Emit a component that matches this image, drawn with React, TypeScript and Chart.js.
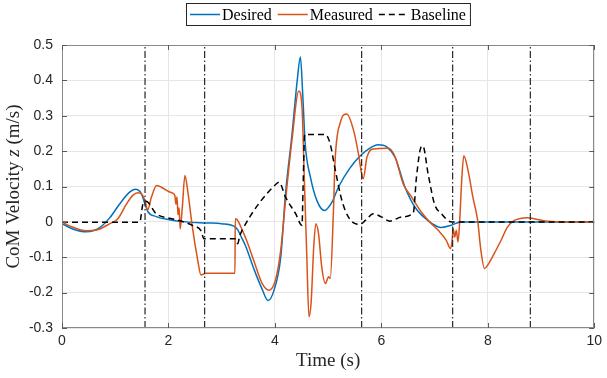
import React, { useEffect, useRef } from 'react';
import { Chart, registerables } from 'chart.js';

Chart.register(...registerables);

// ---- Data ----
const seriesNames = ['Desired', 'Measured', 'Baseline'];

const desiredTime = [0, 0.2, 0.46, 0.71, 0.9, 1.08, 1.27, 1.38, 1.49, 1.55, 1.61, 1.77, 2.02, 2.33, 2.7, 3.0, 3.23, 3.3, 3.36, 3.45, 3.61, 3.76, 3.87, 3.98, 4.11, 4.2, 4.32, 4.42, 4.48, 4.52, 4.57, 4.67, 4.79, 4.93, 5.07, 5.2, 5.4, 5.6, 5.8, 5.94, 6.1, 6.26, 6.44, 6.63, 6.88, 7.05, 7.12, 7.3, 7.5, 8.0, 10];
const desiredVel = [-0.005, -0.02, -0.028, -0.016, 0.012, 0.05, 0.084, 0.092, 0.08, 0.055, 0.03, 0.015, 0.006, 0, -0.003, -0.005, -0.012, -0.022, -0.04, -0.068, -0.135, -0.19, -0.222, -0.195, -0.1, 0.08, 0.245, 0.4, 0.466, 0.37, 0.22, 0.125, 0.06, 0.032, 0.055, 0.1, 0.15, 0.186, 0.21, 0.218, 0.212, 0.182, 0.1, 0.042, 0.003, -0.013, -0.016, -0.01, 0, 0, 0];

const measuredTime = [0, 0.15, 0.46, 0.65, 0.9, 1.05, 1.21, 1.33, 1.43, 1.5, 1.56, 1.61, 1.68, 1.78, 1.9, 2.05, 2.12, 2.14, 2.16, 2.18, 2.2, 2.22, 2.26, 2.31, 2.36, 2.45, 2.55, 2.61, 2.67, 2.7, 3.25, 3.255, 3.28, 3.39, 3.48, 3.6, 3.76, 3.89, 4.01, 4.11, 4.2, 4.32, 4.45, 4.51, 4.55, 4.6, 4.64, 4.68, 4.73, 4.77, 4.82, 4.88, 4.95, 5.01, 5.04, 5.1, 5.13, 5.23, 5.35, 5.48, 5.57, 5.63, 5.66, 5.73, 5.85, 6.13, 6.26, 6.41, 6.57, 6.75, 6.94, 7.07, 7.22, 7.3, 7.33, 7.35, 7.38, 7.41, 7.44, 7.47, 7.51, 7.55, 7.63, 7.72, 7.81, 7.87, 7.94, 8.0, 8.12, 8.25, 8.37, 8.5, 8.75, 8.87, 9.12, 9.5, 10];
const measuredVel = [0, -0.012, -0.025, -0.023, -0.005, 0.009, 0.05, 0.075, 0.082, 0.078, 0.06, 0.034, 0.07, 0.103, 0.095, 0.083, 0.075, 0.05, 0.07, 0.02, 0.04, -0.02, 0.04, 0.131, 0.09, -0.015, -0.108, -0.15, -0.147, -0.145, -0.145, 0.009, 0.008, -0.024, -0.057, -0.108, -0.174, -0.193, -0.165, -0.08, 0.06, 0.23, 0.37, 0.323, 0.136, -0.1, -0.268, -0.23, -0.071, -0.005, -0.033, -0.127, -0.174, -0.155, -0.16, 0.03, 0.17, 0.281, 0.305, 0.258, 0.192, 0.136, 0.122, 0.183, 0.206, 0.208, 0.183, 0.108, 0.07, 0.028, -0.005, -0.024, -0.052, -0.076, -0.052, -0.019, -0.043, -0.024, -0.057, -0.005, 0.117, 0.187, 0.145, 0.07, 0.004, -0.08, -0.132, -0.122, -0.09, -0.052, -0.015, 0.004, 0.012, 0.009, 0.002, 0, 0];

const baselineTime = [0, 1.46, 1.52, 1.58, 1.77, 2.02, 2.2, 2.45, 2.61, 2.67, 3.25, 3.3, 3.34, 3.39, 4.04, 4.08, 4.2, 4.39, 4.51, 4.53, 4.56, 4.95, 5.04, 5.13, 5.26, 5.38, 5.51, 5.6, 5.7, 5.85, 6.0, 6.16, 6.38, 6.6, 6.66, 6.75, 6.78, 6.88, 7.0, 7.13, 7.25, 7.32, 10];
const baselineVel = [-0.001, -0.001, 0.05, 0.058, 0.023, 0.01, 0.004, -0.01, -0.025, -0.048, -0.048, -0.062, -0.04, -0.022, 0.109, 0.112, 0.07, 0.023, -0.01, 0.1, 0.247, 0.247, 0.22, 0.15, 0.06, 0.014, -0.005, -0.007, 0.004, 0.023, 0.014, 0.002, 0.014, 0.025, 0.126, 0.213, 0.215, 0.135, 0.05, 0.023, 0.004, 0, 0];

const eventTimes = [1.56, 2.68, 5.63, 7.34, 8.8];

const xTicks = [0, 2, 4, 6, 8, 10];
const yTicks = [-0.3, -0.2, -0.1, 0, 0.1, 0.2, 0.3, 0.4, 0.5];

const xLabel = 'Time (s)';
const yLabelParts = [
  { text: 'CoM Velocity ', italic: false },
  { text: 'z', italic: true },
  { text: ' (m/s)', italic: false },
];

// ---- Styles ----
const COLORS = ['#0072BD', '#D95319', '#000000'];
const SERIF = '"Liberation Serif", "DejaVu Serif", serif';
const SANS = '"Liberation Sans", Arial, sans-serif';

const zip = (t: number[], v: number[]) => t.map((x, i) => ({ x, y: v[i] }));

const decorPlugin = {
  id: 'decor',
  afterDraw(chart: any) {
    const { ctx, chartArea: a, scales } = chart;
    ctx.save();
    // frame
    ctx.strokeStyle = '#8a8a8a';
    ctx.lineWidth = 1;
    ctx.strokeRect(Math.round(a.left) + 0.5, Math.round(a.top) + 0.5, Math.round(a.right - a.left) - 1, Math.round(a.bottom - a.top) - 1);
    // inward ticks
    ctx.strokeStyle = '#5a5a5a';
    ctx.beginPath();
    xTicks.forEach((v) => {
      const px = Math.round(scales.x.getPixelForValue(v)) + 0.5;
      ctx.moveTo(px, a.bottom); ctx.lineTo(px, a.bottom - 5);
      ctx.moveTo(px, a.top); ctx.lineTo(px, a.top + 5);
    });
    yTicks.forEach((v) => {
      const py = Math.round(scales.y.getPixelForValue(v)) + 0.5;
      ctx.moveTo(a.left, py); ctx.lineTo(a.left + 5, py);
      ctx.moveTo(a.right, py); ctx.lineTo(a.right - 5, py);
    });
    ctx.stroke();

    // x axis title
    ctx.fillStyle = '#262626';
    ctx.font = `19px ${SERIF}`;
    ctx.textAlign = 'center';
    ctx.textBaseline = 'middle';
    ctx.fillText(xLabel, (a.left + a.right) / 2, 361);

    // y axis title (rotated, mixed italic)
    const fonts = yLabelParts.map((p) => `${p.italic ? 'italic ' : ''}19px ${SERIF}`);
    const widths = yLabelParts.map((p, i) => { ctx.font = fonts[i]; return ctx.measureText(p.text).width; });
    const total = widths.reduce((s, w) => s + w, 0);
    ctx.save();
    ctx.translate(14, (a.top + a.bottom) / 2);
    ctx.rotate(-Math.PI / 2);
    ctx.textAlign = 'left';
    let cx = -total / 2;
    yLabelParts.forEach((p, i) => {
      ctx.font = fonts[i];
      ctx.fillText(p.text, cx, 0);
      cx += widths[i];
    });
    ctx.restore();

    // legend
    ctx.font = `16px ${SERIF}`;
    const sample = 30, gapS = 2, gapI = 6, padL = 4, padR = 4;
    const tw = seriesNames.map((n) => ctx.measureText(n).width);
    const boxW = padL + padR + tw.reduce((s, w) => s + w, 0) + seriesNames.length * (sample + gapS) + (seriesNames.length - 1) * gapI;
    const boxTop = 3, boxH = 22;
    const boxLeft = Math.round(328 - boxW / 2);
    ctx.fillStyle = '#ffffff';
    ctx.fillRect(boxLeft, boxTop, boxW, boxH);
    ctx.strokeStyle = '#262626';
    ctx.lineWidth = 1;
    ctx.strokeRect(boxLeft + 0.5, boxTop + 0.5, boxW, boxH);
    let lx = boxLeft + padL;
    const ly = boxTop + boxH / 2 + 0.5;
    seriesNames.forEach((n, i) => {
      ctx.strokeStyle = COLORS[i];
      ctx.lineWidth = 1.5;
      ctx.setLineDash(i === 2 ? [6, 4] : []);
      ctx.beginPath();
      ctx.moveTo(lx, ly); ctx.lineTo(lx + sample, ly);
      ctx.stroke();
      ctx.setLineDash([]);
      lx += sample + gapS;
      ctx.fillStyle = '#000000';
      ctx.textAlign = 'left';
      ctx.textBaseline = 'middle';
      ctx.fillText(n, lx, ly + 1);
      lx += tw[i] + gapI;
    });
    ctx.restore();
  },
};

export default function App() {
  const ref = useRef<HTMLCanvasElement | null>(null);
  useEffect(() => {
    if (!ref.current) return;
    const lineDs = (label: string, t: number[], v: number[], i: number, order: number) => ({
      label,
      data: zip(t, v),
      borderColor: COLORS[i],
      backgroundColor: COLORS[i],
      borderWidth: 1.5,
      borderDash: i === 2 ? [6, 4] : [],
      pointRadius: 0,
      showLine: true,
      cubicInterpolationMode: 'monotone',
      order,
    });
    const eventDs = eventTimes.map((t) => ({
      label: 'event',
      data: [{ x: t, y: yTicks[0] }, { x: t, y: yTicks[yTicks.length - 1] }],
      borderColor: '#262626',
      borderWidth: 1.2,
      borderDash: [7, 2.5, 1.5, 2.5],
      pointRadius: 0,
      showLine: true,
      order: 0,
    }));
    const chart = new Chart(ref.current, {
      type: 'scatter',
      data: {
        datasets: [
          lineDs(seriesNames[0], desiredTime, desiredVel, 0, 3),
          lineDs(seriesNames[1], measuredTime, measuredVel, 1, 2),
          lineDs(seriesNames[2], baselineTime, baselineVel, 2, 1),
          ...eventDs,
        ] as any,
      },
      options: {
        animation: false,
        responsive: false,
        devicePixelRatio: 1,
        layout: { padding: { top: 45, right: 12, left: 0, bottom: 0 } },
        plugins: { legend: { display: false }, tooltip: { enabled: false }, title: { display: false } },
        scales: {
          x: {
            type: 'linear',
            min: 0,
            max: 10,
            afterBuildTicks: (s: any) => { s.ticks = xTicks.map((v) => ({ value: v })); },
            afterFit: (s: any) => { s.height = 50; },
            ticks: { color: '#262626', font: { family: SANS, size: 14 }, padding: 5, maxRotation: 0 },
            grid: { color: '#e6e6e6', drawTicks: false },
            border: { display: false },
          },
          y: {
            type: 'linear',
            min: -0.3,
            max: 0.5,
            afterBuildTicks: (s: any) => { s.ticks = yTicks.map((v) => ({ value: v })); },
            afterFit: (s: any) => { s.width = 62; },
            ticks: {
              color: '#262626',
              font: { family: SANS, size: 14 },
              padding: 9,
              callback: (v: any) => String(Number(Number(v).toFixed(1))),
            },
            grid: { color: '#e6e6e6', drawTicks: false },
            border: { display: false },
          },
        },
      },
      plugins: [decorPlugin],
    } as any);
    return () => chart.destroy();
  }, []);
  return (
    <div style={{ position: 'absolute', left: 0, top: 0, width: 607, height: 378, background: '#fff' }}>
      <canvas ref={ref} width={607} height={378} />
    </div>
  );
}
